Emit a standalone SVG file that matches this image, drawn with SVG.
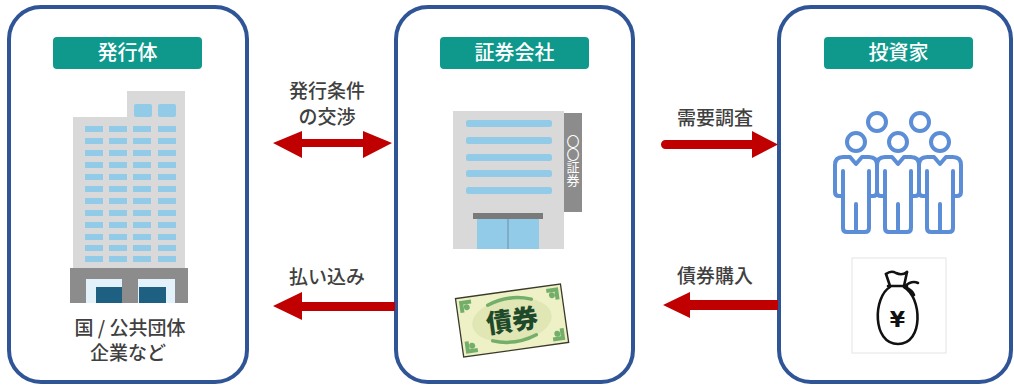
<svg xmlns="http://www.w3.org/2000/svg" width="1014" height="385" viewBox="0 0 1014 385">
  <style>
    .panel { fill: #ffffff; stroke: #2f5597; stroke-width: 4; }
    .tag { fill: #0f998d; }
    .tagtext { fill: #ffffff; font-family: "Noto Sans CJK JP", "Noto Sans", sans-serif; font-size: 20px; font-weight: 500; text-anchor: middle; }
    .label { fill: #404040; font-family: "Noto Sans CJK JP", "Noto Sans", sans-serif; font-size: 19px; font-weight: 500; text-anchor: middle; }
    .win { fill: #92cbe8; }
    .wall { fill: #d9d9d9; }
    .dark { fill: #8c8c8c; }
    .flow { fill: #c00000; }
    .person { fill: #ffffff; stroke: #5b8ed6; stroke-width: 4; stroke-linejoin: round; stroke-linecap: round; }
    .line { fill: none; stroke: #5b8ed6; stroke-width: 4; stroke-linecap: round; }
    .orn { fill: #73ae6a; }
  </style>
  <defs>
    <g id="person">
      <path class="person" d="M0,164 L6,157 H13 Q21,157 21,165 V192 Q21,196 17,196 H13 V228 Q13,232 9,232 H-9 Q-13,232 -13,228 V196 H-17 Q-21,196 -21,192 V165 Q-21,157 -13,157 H-6 Z"/>
      <path class="line" d="M13,171 V195 M-13,171 V195 M0,204 V231"/>
    </g>
  </defs>

  <rect width="1014" height="385" fill="#ffffff"/>

  <!-- issuer -->
  <g id="issuer">
    <rect class="panel" x="9" y="7" width="238" height="375" rx="32"/>
    <rect class="tag" x="53" y="37" width="149" height="32" rx="4"/>
    <text class="tagtext" x="127.5" y="60">発行体</text>
    <!-- tower -->
    <rect class="wall" x="127" y="91" width="58" height="30"/>
    <rect class="wall" x="73" y="117" width="112" height="152"/>
    <rect class="win" x="134" y="104" width="18" height="13" rx="2"/>
    <rect class="win" x="158" y="104" width="18" height="13" rx="2"/>
    <g id="issuer-windows">
      <rect class="win" x="85" y="126" width="18" height="6"/><rect class="win" x="109" y="126" width="18" height="6"/><rect class="win" x="133" y="126" width="18" height="6"/><rect class="win" x="158" y="126" width="18" height="6"/>
      <rect class="win" x="85" y="138" width="18" height="6"/><rect class="win" x="109" y="138" width="18" height="6"/><rect class="win" x="133" y="138" width="18" height="6"/><rect class="win" x="158" y="138" width="18" height="6"/>
      <rect class="win" x="85" y="150" width="18" height="6"/><rect class="win" x="109" y="150" width="18" height="6"/><rect class="win" x="133" y="150" width="18" height="6"/><rect class="win" x="158" y="150" width="18" height="6"/>
      <rect class="win" x="85" y="162" width="18" height="6"/><rect class="win" x="109" y="162" width="18" height="6"/><rect class="win" x="133" y="162" width="18" height="6"/><rect class="win" x="158" y="162" width="18" height="6"/>
      <rect class="win" x="85" y="174" width="18" height="6"/><rect class="win" x="109" y="174" width="18" height="6"/><rect class="win" x="133" y="174" width="18" height="6"/><rect class="win" x="158" y="174" width="18" height="6"/>
      <rect class="win" x="85" y="186" width="18" height="6"/><rect class="win" x="109" y="186" width="18" height="6"/><rect class="win" x="133" y="186" width="18" height="6"/><rect class="win" x="158" y="186" width="18" height="6"/>
      <rect class="win" x="85" y="198" width="18" height="6"/><rect class="win" x="109" y="198" width="18" height="6"/><rect class="win" x="133" y="198" width="18" height="6"/><rect class="win" x="158" y="198" width="18" height="6"/>
      <rect class="win" x="85" y="210" width="18" height="6"/><rect class="win" x="109" y="210" width="18" height="6"/><rect class="win" x="133" y="210" width="18" height="6"/><rect class="win" x="158" y="210" width="18" height="6"/>
      <rect class="win" x="85" y="222" width="18" height="6"/><rect class="win" x="109" y="222" width="18" height="6"/><rect class="win" x="133" y="222" width="18" height="6"/><rect class="win" x="158" y="222" width="18" height="6"/>
      <rect class="win" x="85" y="234" width="18" height="6"/><rect class="win" x="109" y="234" width="18" height="6"/><rect class="win" x="133" y="234" width="18" height="6"/><rect class="win" x="158" y="234" width="18" height="6"/>
      <rect class="win" x="85" y="245" width="18" height="6"/><rect class="win" x="109" y="245" width="18" height="6"/><rect class="win" x="133" y="245" width="18" height="6"/><rect class="win" x="158" y="245" width="18" height="6"/>
      <rect class="win" x="85" y="256" width="18" height="6"/><rect class="win" x="109" y="256" width="18" height="6"/><rect class="win" x="133" y="256" width="18" height="6"/><rect class="win" x="158" y="256" width="18" height="6"/>
    </g>
    <!-- ground floor -->
    <rect class="dark" x="70" y="268" width="118" height="35"/>
    <rect x="86" y="279" width="36" height="24" fill="#e2f1fa"/>
    <rect x="96" y="287" width="26" height="16" fill="#1d6082"/>
    <rect x="138" y="279" width="37" height="24" fill="#e2f1fa"/>
    <rect x="139" y="287" width="27" height="16" fill="#1d6082"/>
    <text class="label" x="130" y="335" xml:space="preserve">国 / 公共団体</text>
    <text class="label" x="128" y="360">企業など</text>
  </g>

  <!-- securities firm -->
  <g id="securities">
    <rect class="panel" x="396" y="7" width="237" height="375" rx="32"/>
    <rect class="tag" x="440" y="37" width="149" height="32" rx="4"/>
    <text class="tagtext" x="514.5" y="60">証券会社</text>
    <rect class="wall" x="453" y="111" width="111" height="138"/>
    <rect class="win" x="466" y="120" width="86" height="7" rx="2.5"/>
    <rect class="win" x="466" y="137" width="86" height="7" rx="2.5"/>
    <rect class="win" x="466" y="154" width="86" height="7" rx="2.5"/>
    <rect class="win" x="466" y="170" width="86" height="7" rx="2.5"/>
    <rect class="win" x="466" y="187" width="86" height="7" rx="2.5"/>
    <rect x="473" y="213" width="70" height="6" fill="#7a7a7a"/>
    <rect class="win" x="477" y="219" width="62" height="30"/>
    <line x1="508" y1="219" x2="508" y2="249" stroke="#6f8fa3" stroke-width="1"/>
    <rect class="dark" x="564" y="113" width="18" height="99"/>
    <text x="573" y="135" fill="#ffffff" font-family="Noto Sans CJK JP, sans-serif" font-size="13" writing-mode="vertical-rl" text-anchor="start">〇〇証券</text>
    <!-- bond certificate -->
    <g transform="rotate(-8 512 320)">
      <rect x="459" y="291" width="106" height="59" fill="#eef0c6" stroke="#3a3a2a" stroke-width="1.3"/>
      <ellipse cx="512" cy="320" rx="40" ry="22" fill="#e0e6b4"/>
      <path d="M490,302 Q512,294 534,302" fill="none" stroke="#73ae6a" stroke-width="3.5" stroke-linecap="round"/>
      <path d="M490,338 Q512,346 534,338" fill="none" stroke="#73ae6a" stroke-width="3.5" stroke-linecap="round"/>
      <path class="orn" d="M462,294 h12 v4 h-8 v8 h-4 z"/>
      <path class="orn" d="M562,294 h-12 v4 h8 v8 h4 z"/>
      <path class="orn" d="M462,347 h12 v-4 h-8 v-8 h-4 z"/>
      <path class="orn" d="M562,347 h-12 v-4 h8 v-8 h4 z"/>
      <circle class="orn" cx="469" cy="301" r="3"/>
      <circle class="orn" cx="555" cy="301" r="3"/>
      <circle class="orn" cx="469" cy="340" r="3"/>
      <circle class="orn" cx="555" cy="340" r="3"/>
      <text x="512" y="330" fill="#1e4a2a" font-family="Noto Sans CJK JP, sans-serif" font-size="26" font-weight="900" text-anchor="middle">債券</text>
    </g>
  </g>

  <!-- investors -->
  <g id="investors">
    <rect class="panel" x="779" y="7" width="232" height="375" rx="32"/>
    <rect class="tag" x="824" y="37" width="149" height="32" rx="4"/>
    <text class="tagtext" x="898.5" y="60">投資家</text>
    <circle class="person" cx="877" cy="122" r="9"/>
    <circle class="person" cx="920" cy="122" r="9"/>
    <use href="#person" x="856"/>
    <use href="#person" x="898"/>
    <use href="#person" x="940"/>
    <circle class="person" cx="856" cy="142" r="9"/>
    <circle class="person" cx="898" cy="142" r="9"/>
    <circle class="person" cx="940" cy="142" r="9"/>
    <!-- money bag -->
    <rect x="852" y="258" width="94" height="95" fill="#ffffff" stroke="#e4e4e4" stroke-width="1"/>
    <g fill="none" stroke="#111111" stroke-width="2.6" stroke-linecap="round" stroke-linejoin="round">
      <path d="M886,274 Q891,270 896,273 Q902,276 907,272"/>
      <path d="M886,274 L890,286 M907,272 L904,286"/>
      <path d="M888,286 H907"/>
      <path d="M890,287 C873,297 872,344 898,344 C924,344 922,297 904,287"/>
      <path d="M905,286 Q912,280 918,283 M905,287 Q912,290 914,295"/>
    </g>
    <text x="897.5" y="327" fill="#111111" font-family="DejaVu Sans, sans-serif" font-size="22" font-weight="bold" text-anchor="middle">¥</text>
  </g>

  <!-- connectors -->
  <g id="connectors">
    <text class="label" x="327" y="98">発行条件</text>
    <text class="label" x="327" y="124">の交渉</text>
    <path class="flow" d="M273,143 L302,131 V139 H363 V131 L392,143 L363,158 V147 H302 V158 Z"/>

    <text class="label" x="327" y="284">払い込み</text>
    <path class="flow" d="M273,306 L302,292 V302 H395 V311 H302 V320 Z"/>

    <text class="label" x="715" y="125">需要調査</text>
    <path class="flow" d="M665.5,140 H752 V131 L778,144.5 L752,158 V149 H665.5 A4.5,4.5 0 0 1 665.5,140 Z"/>

    <text class="label" x="715" y="283">債券購入</text>
    <path class="flow" d="M663,305 L690,292 V300 H778 V310 H690 V318 Z"/>
  </g>
</svg>
